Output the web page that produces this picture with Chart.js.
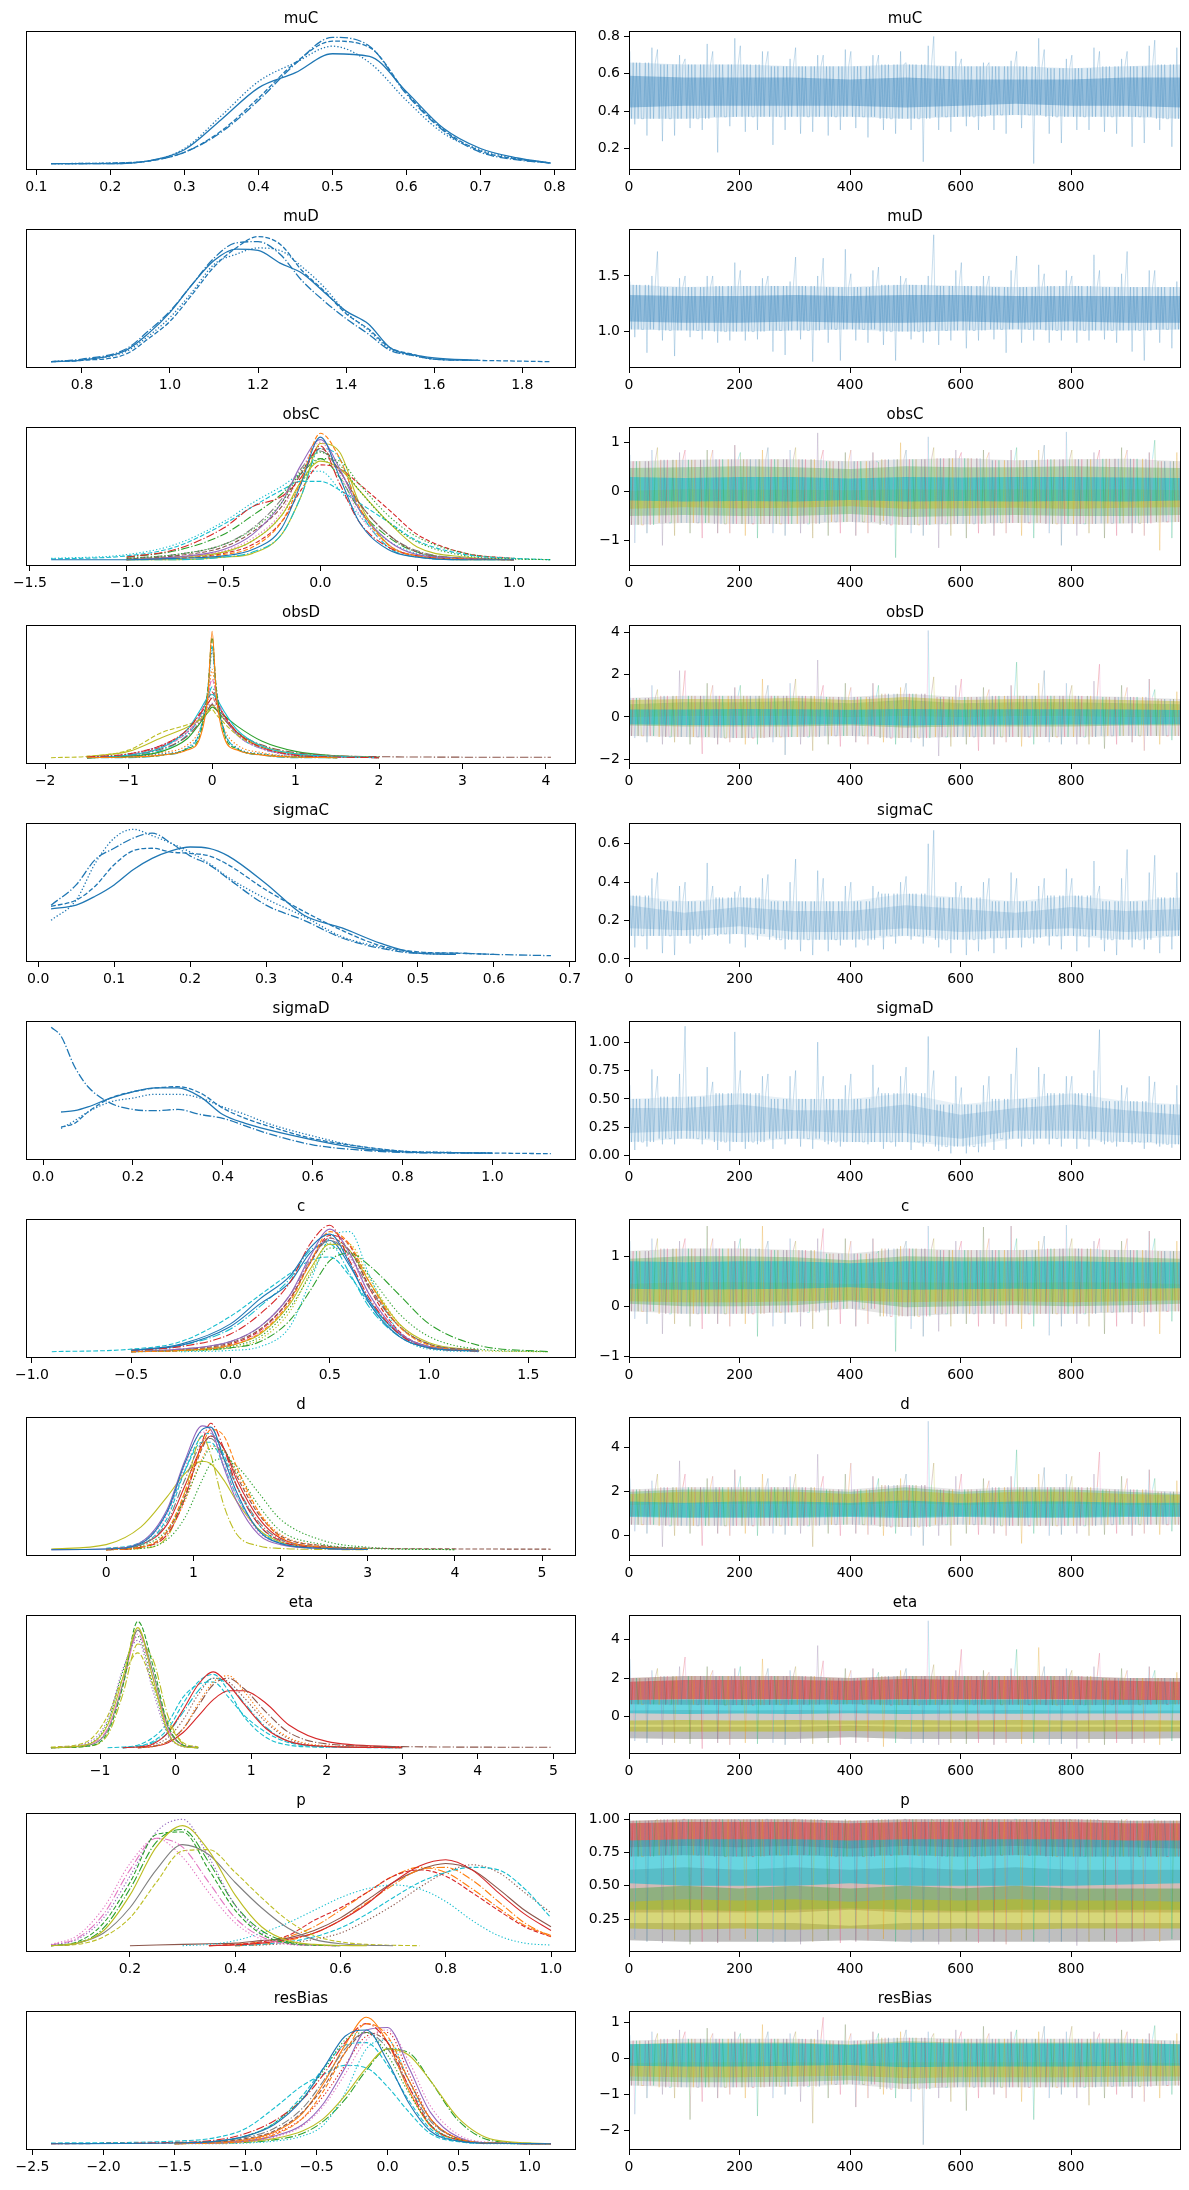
<!DOCTYPE html>
<html lang="en">
<head>
<meta charset="UTF-8">
<title>Trace plot</title>
<script src="https://cdn.jsdelivr.net/npm/chart.js"></script>
<style>
  body { margin: 0; background: #fff; }
  #fig { position: relative; width: 1189px; height: 2190px; }
  #fig canvas { position: absolute; }
</style>
</head>
<body>
<div id="fig"></div>
<script>
// ---------- data ----------
// KDE values are relative heights (tallest curve of a panel = 1)
// trace envelopes: extremes per 25-draw bin (zig) and dense bands at draws 0,100,...,999

const iterTicks = [0, 200, 400, 600, 800];
const iterTickLabels = ['0', '200', '400', '600', '800'];
const bandIters = [0, 100, 200, 300, 400, 500, 600, 700, 800, 900, 999];

// muC
const muCLim = [0.086, 0.829];
const muCKdeX = [0.12, 0.2, 0.25, 0.3, 0.35, 0.4, 0.45, 0.5, 0.55, 0.6, 0.65, 0.7, 0.75, 0.795];
const muCKde = [
  [0, 0, 0.02, 0.11, 0.35, 0.6, 0.72, 0.87, 0.85, 0.57, 0.28, 0.12, 0.045, 0.005],
  [0, 0.005, 0.02, 0.09, 0.26, 0.52, 0.8, 0.97, 0.92, 0.56, 0.27, 0.1, 0.035, 0.005],
  [0, 0.005, 0.02, 0.12, 0.38, 0.65, 0.8, 0.93, 0.8, 0.5, 0.24, 0.11, 0.04, 0.005],
  [0, 0, 0.02, 0.09, 0.25, 0.5, 0.79, 1.0, 0.93, 0.55, 0.26, 0.09, 0.03, 0.005]
];
const muCKdeTicks = [0.1, 0.2, 0.3, 0.4, 0.5, 0.6, 0.7, 0.8];
const muCKdeLabels = ['0.1', '0.2', '0.3', '0.4', '0.5', '0.6', '0.7', '0.8'];
const muCZigHi = [0.72, 0.74, 0.73, 0.70, 0.68, 0.76, 0.72, 0.79, 0.75, 0.72, 0.72, 0.68, 0.74, 0.70, 0.70, 0.73, 0.72, 0.70, 0.70, 0.72,
  0.66, 0.75, 0.80, 0.72, 0.68, 0.66, 0.66, 0.67, 0.72, 0.79, 0.73, 0.68, 0.70, 0.74, 0.72, 0.68, 0.72, 0.75, 0.78, 0.74];
const muCZigLo = [0.33, 0.27, 0.24, 0.27, 0.31, 0.30, 0.18, 0.32, 0.29, 0.30, 0.22, 0.30, 0.28, 0.29, 0.27, 0.30, 0.31, 0.26, 0.30, 0.28,
  0.30, 0.13, 0.30, 0.29, 0.32, 0.30, 0.30, 0.28, 0.31, 0.12, 0.28, 0.23, 0.30, 0.30, 0.29, 0.28, 0.21, 0.23, 0.30, 0.21];
const muCBands = [
  [[0.66, 0.65, 0.65, 0.64, 0.64, 0.65, 0.64, 0.64, 0.63, 0.64, 0.65], [0.36, 0.36, 0.37, 0.37, 0.37, 0.36, 0.37, 0.38, 0.37, 0.37, 0.36]],
  [[0.59, 0.58, 0.58, 0.58, 0.57, 0.58, 0.57, 0.57, 0.57, 0.58, 0.58], [0.42, 0.43, 0.43, 0.43, 0.43, 0.42, 0.43, 0.44, 0.43, 0.43, 0.42]]
];
const muCTraceTicks = [0.2, 0.4, 0.6, 0.8];
const muCTraceLabels = ['0.2', '0.4', '0.6', '0.8'];

// muD
const muDLim = [0.673, 1.922];
const muDKdeX = [0.73, 0.8, 0.9, 0.95, 1.0, 1.05, 1.1, 1.15, 1.2, 1.25, 1.3, 1.35, 1.4, 1.45, 1.5, 1.55, 1.6, 1.7, 1.865];
const muDKde = [
  [0, 0.013, 0.09, 0.22, 0.39, 0.61, 0.8, 0.89, 0.88, 0.78, 0.7, 0.55, 0.4, 0.3, 0.11, 0.055, 0.03, 0.01, null],
  [0, 0.01, 0.06, 0.18, 0.32, 0.53, 0.75, 0.9, 0.99, 0.93, 0.72, 0.56, 0.38, 0.26, 0.11, 0.06, 0.02, 0.01, 0],
  [0, 0.015, 0.08, 0.2, 0.35, 0.55, 0.77, 0.85, 0.9, 0.88, 0.75, 0.59, 0.39, 0.25, 0.1, 0.05, 0.02, 0.01, null],
  [0, 0.02, 0.1, 0.24, 0.4, 0.61, 0.82, 0.94, 0.95, 0.85, 0.64, 0.48, 0.34, 0.22, 0.09, 0.05, 0.02, 0.01, null]
];
const muDKdeTicks = [0.8, 1.0, 1.2, 1.4, 1.6, 1.8];
const muDKdeLabels = ['0.8', '1.0', '1.2', '1.4', '1.6', '1.8'];
const muDZigHi = [1.45, 1.5, 1.72, 1.48, 1.5, 1.5, 1.5, 1.62, 1.55, 1.48, 1.5, 1.45, 1.67, 1.5, 1.66, 1.74, 1.52, 1.55, 1.58, 1.5,
  1.48, 1.5, 1.87, 1.55, 1.62, 1.5, 1.5, 1.55, 1.68, 1.6, 1.52, 1.55, 1.5, 1.69, 1.55, 1.52, 1.72, 1.55, 1.55, 1.45];
const muDZigLo = [0.95, 0.81, 0.92, 0.78, 0.95, 0.93, 0.9, 0.92, 0.92, 0.93, 0.82, 0.79, 0.93, 0.73, 0.9, 0.74, 0.92, 0.9, 0.88, 0.74,
  0.93, 0.9, 0.88, 0.92, 0.85, 0.92, 0.93, 0.81, 0.9, 0.92, 0.9, 0.92, 0.9, 0.92, 0.93, 0.9, 0.82, 0.74, 0.9, 0.85];
const muDBands = [
  [[1.42, 1.40, 1.41, 1.41, 1.40, 1.42, 1.41, 1.40, 1.41, 1.40, 1.40], [1.02, 1.01, 1.0, 1.01, 1.02, 1.0, 1.01, 1.02, 1.01, 1.01, 1.02]],
  [[1.33, 1.32, 1.32, 1.33, 1.32, 1.33, 1.33, 1.32, 1.32, 1.32, 1.32], [1.09, 1.08, 1.08, 1.09, 1.08, 1.08, 1.09, 1.08, 1.09, 1.08, 1.08]]
];
const muDTraceTicks = [1.0, 1.5];
const muDTraceLabels = ['1.0', '1.5'];

// obsC
const obsCLim = [-1.52, 1.32];
const obsCKdeX = [-1.39, -1.0, -0.75, -0.5, -0.35, -0.2, -0.1, 0.0, 0.1, 0.2, 0.35, 0.5, 0.75, 1.0, 1.19];
const obsCKde = [
  [0, 0, 0.01, 0.03, 0.08, 0.25, 0.6, 0.97, 0.65, 0.3, 0.08, 0.02, 0, 0, null],
  [null, 0, 0.01, 0.04, 0.1, 0.3, 0.62, 1.0, 0.8, 0.42, 0.12, 0.03, 0.005, 0, null],
  [null, 0.01, 0.04, 0.12, 0.24, 0.45, 0.7, 0.85, 0.75, 0.55, 0.3, 0.14, 0.03, 0.005, 0],
  [null, 0.02, 0.08, 0.25, 0.42, 0.5, 0.65, 0.9, 0.6, 0.3, 0.1, 0.03, 0.005, 0, null],
  [null, 0, 0.02, 0.08, 0.2, 0.45, 0.75, 0.95, 0.72, 0.4, 0.15, 0.04, 0.01, 0, null],
  [null, 0.005, 0.03, 0.1, 0.22, 0.42, 0.68, 0.88, 0.7, 0.45, 0.2, 0.06, 0.01, 0, null],
  [null, 0, 0.02, 0.07, 0.17, 0.38, 0.7, 0.93, 0.68, 0.36, 0.12, 0.03, 0.005, 0, null],
  [null, 0.01, 0.04, 0.12, 0.25, 0.48, 0.72, 0.86, 0.7, 0.45, 0.2, 0.07, 0.01, 0, null],
  [null, 0, 0.02, 0.06, 0.15, 0.35, 0.62, 0.78, 0.72, 0.55, 0.3, 0.1, 0.02, 0, null],
  [0.005, 0.03, 0.1, 0.28, 0.42, 0.55, 0.62, 0.62, 0.55, 0.45, 0.3, 0.15, 0.04, 0.01, 0],
  [null, 0, 0.02, 0.06, 0.15, 0.35, 0.6, 0.8, 0.78, 0.6, 0.35, 0.18, 0.05, 0.01, 0],
  [null, 0, 0, 0.02, 0.06, 0.2, 0.5, 0.88, 0.8, 0.4, 0.1, 0.02, 0, 0, null],
  [null, 0, 0, 0.02, 0.05, 0.2, 0.5, 0.92, 0.85, 0.45, 0.12, 0.03, 0, 0, null],
  [null, 0, 0.01, 0.05, 0.12, 0.3, 0.55, 0.75, 0.72, 0.6, 0.4, 0.2, 0.05, 0.01, null],
  [0.01, 0.04, 0.12, 0.3, 0.45, 0.58, 0.68, 0.7, 0.55, 0.35, 0.15, 0.05, 0.01, 0, null],
  [null, 0.02, 0.07, 0.2, 0.35, 0.52, 0.68, 0.8, 0.65, 0.4, 0.18, 0.06, 0.01, 0, null]
];
const obsCKdeTicks = [-1.5, -1.0, -0.5, 0.0, 0.5, 1.0];
const obsCKdeLabels = ['\u22121.5', '\u22121.0', '\u22120.5', '0.0', '0.5', '1.0'];
const obsCZigHi = [0.75, 0.85, 0.9, 0.8, 0.85, 0.85, 0.85, 0.95, 0.8, 0.85, 0.9, 0.85, 0.9, 1.2, 0.85, 0.8, 0.85, 0.8, 0.6, 1.0,
  0.85, 1.12, 0.9, 0.85, 0.8, 0.85, 0.8, 0.85, 0.9, 0.85, 0.95, 1.22, 0.85, 0.8, 0.85, 0.9, 0.85, 0.8, 1.05, 0.8];
const obsCZigLo = [-1.05, -0.85, -1.1, -0.9, -0.85, -0.95, -0.85, -0.85, -0.9, -0.95, -0.85, -0.9, -0.85, -0.95, -0.9, -0.85, -0.9, -0.85, -0.6, -1.35,
  -0.85, -0.9, -1.15, -0.9, -0.95, -0.85, -0.9, -0.85, -0.9, -0.95, -0.85, -1.1, -0.9, -0.85, -0.95, -0.9, -0.85, -0.9, -1.2, -0.95];
const obsCBands = [
  [[0.62, 0.65, 0.66, 0.66, 0.62, 0.66, 0.68, 0.64, 0.66, 0.67, 0.62], [-0.68, -0.64, -0.66, -0.66, -0.62, -0.68, -0.66, -0.64, -0.66, -0.65, -0.62]],
  [[0.48, 0.5, 0.52, 0.5, 0.46, 0.52, 0.5, 0.5, 0.52, 0.5, 0.48], [-0.5, -0.48, -0.5, -0.5, -0.46, -0.52, -0.5, -0.48, -0.5, -0.5, -0.48]],
  [[0.02, 0.05, 0.04, 0.04, 0.03, 0.05, 0.04, 0.05, 0.04, 0.05, 0.03], [-0.35, -0.32, -0.34, -0.33, -0.3, -0.35, -0.34, -0.33, -0.35, -0.33, -0.32]],
  [[0.3, 0.28, 0.3, 0.3, 0.27, 0.3, 0.29, 0.3, 0.3, 0.29, 0.28], [-0.18, -0.2, -0.19, -0.2, -0.17, -0.2, -0.19, -0.2, -0.19, -0.2, -0.18]]
];
const obsCTraceTicks = [-1, 0, 1];
const obsCTraceLabels = ['\u22121', '0', '1'];

// obsD
const obsDLim = [-2.23, 4.36];
const obsDKdeX = [-1.93, -1.5, -1.0, -0.6, -0.3, -0.15, -0.05, 0.0, 0.05, 0.15, 0.3, 0.6, 1.0, 1.5, 2.0, 3.0, 4.06];
const obsDKde = [
  [null, 0, 0.005, 0.02, 0.06, 0.15, 0.5, 1.0, 0.5, 0.15, 0.06, 0.02, 0.005, 0, null, null, null],
  [null, 0, 0.005, 0.02, 0.07, 0.17, 0.55, 0.95, 0.55, 0.18, 0.07, 0.025, 0.005, 0, null, null, null],
  [null, 0, 0.01, 0.03, 0.08, 0.2, 0.5, 0.85, 0.55, 0.2, 0.08, 0.03, 0.01, 0, null, null, null],
  [null, 0.005, 0.03, 0.1, 0.22, 0.34, 0.43, 0.47, 0.43, 0.33, 0.2, 0.08, 0.02, 0.005, 0, null, null],
  [null, 0, 0.02, 0.08, 0.22, 0.37, 0.48, 0.5, 0.47, 0.36, 0.22, 0.09, 0.03, 0.01, 0, null, null],
  [0, 0.01, 0.06, 0.2, 0.26, 0.3, 0.36, 0.38, 0.34, 0.27, 0.18, 0.08, 0.03, 0.01, 0, null, null],
  [null, 0.005, 0.03, 0.1, 0.2, 0.3, 0.4, 0.43, 0.4, 0.31, 0.19, 0.07, 0.02, 0.005, 0, null, null],
  [null, 0, 0.02, 0.07, 0.17, 0.28, 0.38, 0.42, 0.38, 0.3, 0.2, 0.1, 0.04, 0.015, 0.008, 0.004, 0.003],
  [null, 0, 0.01, 0.05, 0.15, 0.27, 0.36, 0.4, 0.38, 0.33, 0.25, 0.13, 0.05, 0.015, 0.005, null, null],
  [null, 0, 0.02, 0.08, 0.2, 0.33, 0.5, 0.62, 0.5, 0.32, 0.18, 0.07, 0.02, 0.005, 0, null, null],
  [null, 0.005, 0.03, 0.09, 0.2, 0.31, 0.42, 0.48, 0.42, 0.31, 0.19, 0.08, 0.025, 0.005, 0, null, null],
  [null, 0, 0, 0.02, 0.07, 0.2, 0.55, 0.88, 0.5, 0.2, 0.07, 0.02, 0, 0, null, null, null],
  [null, 0.01, 0.05, 0.16, 0.24, 0.3, 0.38, 0.42, 0.38, 0.3, 0.2, 0.09, 0.03, 0.01, 0, null, null],
  [null, 0, 0.02, 0.09, 0.22, 0.35, 0.46, 0.52, 0.45, 0.33, 0.2, 0.08, 0.02, 0.005, null, null, null],
  [null, 0, 0.01, 0.04, 0.1, 0.22, 0.45, 0.7, 0.45, 0.22, 0.1, 0.04, 0.01, 0, null, null, null],
  [null, 0, 0.015, 0.06, 0.18, 0.32, 0.48, 0.56, 0.46, 0.32, 0.18, 0.07, 0.02, 0, null, null, null]
];
const obsDKdeTicks = [-2, -1, 0, 1, 2, 3, 4];
const obsDKdeLabels = ['\u22122', '\u22121', '0', '1', '2', '3', '4'];
const obsDZigHi = [1.4, 1.5, 1.3, 2.2, 2.2, 1.6, 1.5, 1.4, 1.5, 1.8, 1.5, 1.6, 1.8, 2.7, 1.5, 1.6, 1.4, 1.6, 1.5, 1.4,
  1.6, 4.1, 1.9, 1.5, 1.8, 1.4, 1.3, 1.5, 2.6, 1.6, 2.2, 1.6, 1.5, 1.7, 2.5, 1.5, 1.4, 1.8, 1.3, 1.2];
const obsDZigLo = [-1.0, -1.2, -1.3, -1.2, -1.3, -1.75, -1.3, -1.2, -1.3, -1.3, -1.2, -1.8, -1.3, -1.6, -1.3, -1.4, -1.2, -1.3, -1.2, -1.3,
  -1.2, -1.4, -1.85, -1.4, -1.3, -1.6, -1.3, -1.2, -1.4, -1.3, -1.2, -1.3, -1.3, -1.3, -1.5, -1.3, -1.2, -1.6, -1.3, -1.1];
const obsDBands = [
  [[0.9, 1.0, 1.0, 1.0, 0.95, 1.1, 0.95, 1.0, 1.0, 0.95, 0.85], [-0.9, -0.95, -1.0, -0.95, -0.9, -1.0, -0.95, -0.95, -0.95, -0.9, -0.9]],
  [[0.6, 0.7, 0.7, 0.75, 0.65, 0.8, 0.65, 0.7, 0.7, 0.65, 0.6], [-0.4, -0.45, -0.45, -0.45, -0.4, -0.5, -0.45, -0.45, -0.45, -0.4, -0.4]],
  [[0.8, 0.85, 0.85, 0.9, 0.8, 0.95, 0.8, 0.85, 0.85, 0.8, 0.75], [0.0, 0.05, 0.05, 0.05, 0.0, 0.05, 0.0, 0.05, 0.05, 0.0, 0.0]],
  [[0.35, 0.35, 0.38, 0.36, 0.34, 0.38, 0.35, 0.36, 0.36, 0.35, 0.33], [-0.35, -0.38, -0.38, -0.37, -0.34, -0.4, -0.37, -0.37, -0.36, -0.36, -0.34]]
];
const obsDTraceTicks = [-2, 0, 2, 4];
const obsDTraceLabels = ['\u22122', '0', '2', '4'];

// sigmaC
const sigmaCLim = [-0.016, 0.708];
const sigmaCKdeX = [0.017, 0.05, 0.075, 0.1, 0.125, 0.15, 0.175, 0.2, 0.225, 0.25, 0.3, 0.35, 0.4, 0.45, 0.5, 0.55, 0.6, 0.675];
const sigmaCKde = [
  [0.37, 0.40, 0.47, 0.56, 0.68, 0.77, 0.83, 0.86, 0.85, 0.79, 0.57, 0.32, 0.22, 0.1, 0.02, 0.01, null, null],
  [0.39, 0.44, 0.55, 0.72, 0.83, 0.85, 0.82, 0.81, 0.79, 0.72, 0.52, 0.35, 0.2, 0.08, 0.03, 0.02, 0.01, null],
  [0.28, 0.44, 0.73, 0.93, 1.0, 0.95, 0.89, 0.82, 0.73, 0.62, 0.45, 0.31, 0.15, 0.07, 0.02, 0.01, null, null],
  [0.4, 0.56, 0.76, 0.85, 0.93, 0.97, 0.89, 0.79, 0.72, 0.61, 0.4, 0.28, 0.14, 0.06, 0.02, 0.02, 0.01, 0]
];
const sigmaCKdeTicks = [0.0, 0.1, 0.2, 0.3, 0.4, 0.5, 0.6, 0.7];
const sigmaCKdeLabels = ['0.0', '0.1', '0.2', '0.3', '0.4', '0.5', '0.6', '0.7'];
const sigmaCZigHi = [0.36, 0.42, 0.45, 0.38, 0.4, 0.5, 0.38, 0.35, 0.38, 0.42, 0.44, 0.4, 0.52, 0.46, 0.42, 0.38, 0.4, 0.38, 0.35, 0.4,
  0.43, 0.6, 0.67, 0.4, 0.38, 0.4, 0.42, 0.45, 0.42, 0.38, 0.42, 0.47, 0.42, 0.51, 0.38, 0.42, 0.57, 0.45, 0.54, 0.45];
const sigmaCZigLo = [0.06, 0.05, 0.03, 0.02, 0.08, 0.1, 0.12, 0.08, 0.06, 0.1, 0.12, 0.05, 0.04, 0.02, 0.04, 0.07, 0.06, 0.07, 0.05, 0.08,
  0.1, 0.08, 0.06, 0.03, 0.02, 0.04, 0.03, 0.05, 0.06, 0.08, 0.07, 0.05, 0.04, 0.06, 0.04, 0.02, 0.06, 0.05, 0.03, 0.05];
const sigmaCBands = [
  [[0.33, 0.3, 0.32, 0.3, 0.3, 0.34, 0.32, 0.3, 0.33, 0.3, 0.32], [0.12, 0.12, 0.13, 0.1, 0.1, 0.12, 0.1, 0.11, 0.12, 0.1, 0.12]],
  [[0.28, 0.24, 0.27, 0.25, 0.25, 0.28, 0.26, 0.24, 0.27, 0.25, 0.26], [0.16, 0.15, 0.17, 0.14, 0.14, 0.16, 0.14, 0.15, 0.16, 0.14, 0.15]]
];
const sigmaCTraceTicks = [0.0, 0.2, 0.4, 0.6];
const sigmaCTraceLabels = ['0.0', '0.2', '0.4', '0.6'];

// sigmaD
const sigmaDLim = [-0.038, 1.186];
const sigmaDKdeX = [0.018, 0.04, 0.07, 0.1, 0.15, 0.2, 0.25, 0.3, 0.35, 0.4, 0.45, 0.5, 0.6, 0.7, 0.8, 0.9, 1.0, 1.13];
const sigmaDKde = [
  [null, 0.33, 0.34, 0.37, 0.44, 0.49, 0.52, 0.52, 0.45, 0.31, 0.24, 0.19, 0.11, 0.045, 0.015, 0.008, 0.004, null],
  [null, 0.21, 0.24, 0.33, 0.44, 0.49, 0.52, 0.53, 0.48, 0.36, 0.28, 0.22, 0.12, 0.06, 0.02, 0.01, 0.005, 0],
  [null, 0.2, 0.26, 0.33, 0.41, 0.44, 0.47, 0.47, 0.44, 0.37, 0.31, 0.24, 0.14, 0.06, 0.02, 0.01, 0.005, null],
  [1.0, 0.93, 0.69, 0.53, 0.40, 0.35, 0.34, 0.35, 0.31, 0.28, 0.22, 0.16, 0.07, 0.03, 0.01, 0.005, 0.003, null]
];
const sigmaDKdeTicks = [0.0, 0.2, 0.4, 0.6, 0.8, 1.0];
const sigmaDKdeLabels = ['0.0', '0.2', '0.4', '0.6', '0.8', '1.0'];
const sigmaDZigHi = [0.62, 0.76, 0.7, 0.72, 1.14, 0.78, 0.65, 1.09, 0.75, 0.7, 0.72, 0.7, 0.75, 1.0, 0.7, 0.62, 0.72, 0.8, 0.6, 0.7,
  0.78, 1.05, 0.75, 0.7, 0.6, 0.62, 0.7, 0.72, 0.95, 0.78, 0.72, 0.7, 0.7, 0.75, 1.11, 0.62, 0.6, 0.7, 0.65, 0.62];
const sigmaDZigLo = [0.05, 0.08, 0.1, 0.1, 0.15, 0.1, 0.05, 0.04, 0.06, 0.1, 0.06, 0.1, 0.08, 0.06, 0.1, 0.08, 0.12, 0.1, 0.06, 0.08,
  0.05, 0.08, 0.04, 0.02, 0.02, 0.03, 0.05, 0.06, 0.08, 0.1, 0.1, 0.08, 0.06, 0.08, 0.1, 0.08, 0.1, 0.06, 0.08, 0.07];
const sigmaDBands = [
  [[0.5, 0.52, 0.55, 0.5, 0.5, 0.55, 0.45, 0.5, 0.55, 0.48, 0.45], [0.12, 0.15, 0.12, 0.15, 0.12, 0.12, 0.08, 0.15, 0.15, 0.12, 0.1]],
  [[0.42, 0.42, 0.45, 0.4, 0.4, 0.45, 0.36, 0.42, 0.45, 0.4, 0.36], [0.2, 0.22, 0.2, 0.22, 0.2, 0.2, 0.15, 0.22, 0.22, 0.2, 0.18]]
];
const sigmaDTraceTicks = [0.0, 0.25, 0.5, 0.75, 1.0];
const sigmaDTraceLabels = ['0.00', '0.25', '0.50', '0.75', '1.00'];

// c
const cLim = [-1.03, 1.74];
const cKdeX = [-0.9, -0.5, -0.25, 0.0, 0.15, 0.3, 0.4, 0.5, 0.6, 0.7, 0.85, 1.0, 1.25, 1.6];
const cKde = [
  [null, 0.01, 0.06, 0.22, 0.42, 0.6, 0.82, 0.93, 0.7, 0.38, 0.12, 0.03, 0.005, null],
  [null, 0, 0.01, 0.05, 0.15, 0.4, 0.7, 0.95, 0.85, 0.55, 0.2, 0.05, 0.005, null],
  [null, 0, 0.01, 0.04, 0.12, 0.35, 0.6, 0.82, 0.78, 0.6, 0.3, 0.12, 0.02, 0],
  [null, 0.01, 0.04, 0.14, 0.3, 0.55, 0.85, 1.0, 0.72, 0.42, 0.14, 0.03, 0.005, null],
  [null, 0, 0.02, 0.08, 0.2, 0.45, 0.75, 0.97, 0.78, 0.45, 0.15, 0.04, 0.005, null],
  [null, 0, 0.015, 0.07, 0.18, 0.42, 0.7, 0.9, 0.8, 0.52, 0.2, 0.06, 0.01, null],
  [null, 0, 0.01, 0.05, 0.16, 0.42, 0.72, 0.9, 0.75, 0.45, 0.15, 0.04, 0.005, null],
  [null, 0.005, 0.02, 0.08, 0.2, 0.45, 0.72, 0.88, 0.76, 0.5, 0.2, 0.06, 0.01, null],
  [null, 0, 0.01, 0.05, 0.14, 0.38, 0.65, 0.85, 0.8, 0.55, 0.22, 0.07, 0.01, null],
  [0, 0.02, 0.08, 0.28, 0.45, 0.62, 0.72, 0.75, 0.6, 0.38, 0.14, 0.04, 0.005, null],
  [null, null, 0, 0.01, 0.04, 0.2, 0.55, 0.9, 0.95, 0.6, 0.15, 0.02, 0, null],
  [null, 0, 0.01, 0.03, 0.08, 0.25, 0.48, 0.72, 0.78, 0.68, 0.45, 0.22, 0.05, 0],
  [null, 0.01, 0.05, 0.2, 0.38, 0.55, 0.78, 0.88, 0.68, 0.4, 0.14, 0.04, 0.005, null],
  [null, 0, 0.01, 0.06, 0.17, 0.42, 0.7, 0.92, 0.84, 0.5, 0.16, 0.04, 0.005, null],
  [null, 0, 0.005, 0.03, 0.1, 0.32, 0.62, 0.86, 0.85, 0.58, 0.22, 0.06, 0.008, 0],
  [null, 0.01, 0.05, 0.18, 0.36, 0.58, 0.8, 0.85, 0.62, 0.35, 0.12, 0.03, 0.005, null]
];
const cKdeTicks = [-1.0, -0.5, 0.0, 0.5, 1.0, 1.5];
const cKdeLabels = ['\u22121.0', '\u22120.5', '0.0', '0.5', '1.0', '1.5'];
const cZigHi = [1.3, 1.35, 1.35, 1.3, 1.35, 1.6, 1.35, 1.3, 1.35, 1.6, 1.3, 1.35, 1.3, 1.35, 1.55, 1.35, 1.3, 1.35, 1.1, 1.2,
  1.3, 1.6, 1.35, 1.3, 1.3, 1.58, 1.35, 1.6, 1.35, 1.3, 1.4, 1.62, 1.35, 1.3, 1.35, 1.3, 1.35, 1.5, 1.35, 1.3];
const cZigLo = [-0.25, -0.35, -0.55, -0.35, -0.4, -0.45, -0.35, -0.4, -0.35, -0.6, -0.4, -0.35, -0.4, -0.45, -0.4, -0.35, -0.4, -0.35, -0.2, -0.9,
  -0.45, -0.6, -0.5, -0.4, -0.35, -0.4, -0.35, -0.4, -0.45, -0.4, -0.58, -0.4, -0.35, -0.4, -0.55, -0.4, -0.35, -0.4, -0.55, -0.3];
const cBands = [
  [[1.1, 1.15, 1.15, 1.12, 1.05, 1.15, 1.12, 1.12, 1.15, 1.12, 1.1], [-0.1, -0.15, -0.15, -0.12, -0.05, -0.2, -0.15, -0.15, -0.15, -0.12, -0.1]],
  [[0.95, 1.0, 1.0, 0.98, 0.92, 1.0, 0.98, 0.98, 1.0, 0.98, 0.95], [0.05, 0.0, 0.0, 0.02, 0.1, -0.02, 0.0, 0.02, 0.0, 0.02, 0.05]],
  [[0.45, 0.48, 0.48, 0.47, 0.45, 0.48, 0.47, 0.47, 0.48, 0.47, 0.45], [0.1, 0.08, 0.08, 0.1, 0.12, 0.08, 0.1, 0.1, 0.08, 0.1, 0.12]],
  [[0.9, 0.88, 0.9, 0.9, 0.86, 0.9, 0.9, 0.9, 0.9, 0.88, 0.88], [0.35, 0.33, 0.34, 0.35, 0.38, 0.33, 0.34, 0.35, 0.34, 0.35, 0.36]]
];
const cTraceTicks = [-1, 0, 1];
const cTraceLabels = ['\u22121', '0', '1'];

// d
const dLim = [-0.92, 5.39];
const dKdeX = [-0.63, 0.0, 0.4, 0.7, 0.9, 1.1, 1.2, 1.35, 1.5, 1.75, 2.0, 2.5, 3.0, 4.0, 5.1];
const dKde = [
  [0, 0.005, 0.05, 0.3, 0.68, 0.95, 0.97, 0.72, 0.45, 0.15, 0.05, 0.01, 0.002, null, null],
  [null, 0, 0.02, 0.15, 0.45, 0.82, 0.95, 0.9, 0.65, 0.3, 0.1, 0.02, 0.005, null, null],
  [null, 0, 0.03, 0.16, 0.4, 0.7, 0.8, 0.78, 0.62, 0.35, 0.15, 0.04, 0.01, 0, null],
  [null, 0, 0.02, 0.12, 0.4, 0.85, 1.0, 0.8, 0.5, 0.2, 0.07, 0.015, 0.003, null, null],
  [0, 0.005, 0.06, 0.32, 0.7, 0.98, 0.95, 0.65, 0.38, 0.12, 0.04, 0.01, 0.002, null, null],
  [null, 0, 0.02, 0.14, 0.42, 0.8, 0.9, 0.8, 0.58, 0.28, 0.11, 0.03, 0.012, 0.006, 0.004],
  [null, 0.005, 0.05, 0.28, 0.65, 0.93, 0.92, 0.68, 0.42, 0.14, 0.05, 0.01, 0.002, null, null],
  [null, 0.005, 0.04, 0.22, 0.55, 0.85, 0.88, 0.72, 0.5, 0.22, 0.08, 0.02, 0.005, null, null],
  [0.005, 0.04, 0.18, 0.42, 0.6, 0.7, 0.68, 0.55, 0.38, 0.16, 0.06, 0.015, 0.003, null, null],
  [null, 0.005, 0.04, 0.25, 0.62, 0.9, 0.92, 0.75, 0.5, 0.2, 0.06, 0.01, 0.002, null, null],
  [null, 0, 0.01, 0.08, 0.25, 0.55, 0.68, 0.72, 0.66, 0.45, 0.24, 0.07, 0.02, 0, null],
  [null, 0, 0.01, 0.1, 0.45, 0.9, 0.75, 0.35, 0.12, 0.03, 0.01, 0.002, 0, null, null],
  [null, 0.005, 0.04, 0.2, 0.5, 0.82, 0.9, 0.8, 0.55, 0.25, 0.09, 0.02, 0.004, null, null],
  [null, 0.01, 0.06, 0.3, 0.62, 0.85, 0.85, 0.66, 0.42, 0.16, 0.05, 0.01, 0.002, null, null],
  [null, 0, 0.02, 0.12, 0.38, 0.72, 0.82, 0.78, 0.6, 0.3, 0.12, 0.03, 0.006, null, null]
];
const dKdeTicks = [0, 1, 2, 3, 4, 5];
const dKdeLabels = ['0', '1', '2', '3', '4', '5'];
const dZigHi = [2.6, 2.5, 2.8, 3.4, 2.8, 2.6, 2.7, 3.0, 2.7, 2.8, 2.6, 2.7, 2.8, 3.7, 2.7, 2.8, 3.3, 2.7, 2.6, 2.6,
  2.8, 5.2, 3.3, 2.7, 2.8, 2.6, 2.5, 2.7, 3.9, 2.8, 3.1, 2.8, 2.7, 2.8, 3.8, 2.7, 2.6, 3.0, 2.6, 2.5];
const dZigLo = [0.2, 0.1, -0.5, 0.0, 0.1, -0.45, 0.1, 0.0, 0.1, 0.0, 0.1, 0.05, 0.1, -0.5, 0.1, 0.0, 0.1, 0.05, 0.0, 0.1,
  0.0, -0.45, 0.0, -0.45, 0.1, 0.05, 0.1, 0.0, -0.35, 0.1, 0.0, 0.05, 0.1, 0.0, 0.05, 0.1, 0.0, 0.1, 0.05, 0.2];
const dBands = [
  [[2.1, 2.2, 2.2, 2.2, 2.1, 2.3, 2.1, 2.2, 2.2, 2.1, 2.0], [0.5, 0.45, 0.45, 0.45, 0.5, 0.4, 0.5, 0.45, 0.45, 0.5, 0.5]],
  [[2.0, 2.1, 2.1, 2.1, 2.0, 2.2, 2.0, 2.1, 2.1, 2.0, 1.9], [0.9, 0.85, 0.85, 0.85, 0.9, 0.85, 0.9, 0.85, 0.85, 0.9, 0.9]],
  [[1.9, 2.0, 2.0, 2.0, 1.9, 2.05, 1.9, 2.0, 2.0, 1.9, 1.85], [1.4, 1.45, 1.45, 1.45, 1.4, 1.5, 1.4, 1.45, 1.45, 1.4, 1.4]],
  [[1.55, 1.5, 1.55, 1.55, 1.5, 1.6, 1.5, 1.55, 1.55, 1.5, 1.5], [0.85, 0.82, 0.82, 0.82, 0.85, 0.8, 0.85, 0.82, 0.82, 0.85, 0.85]]
];
const dTraceTicks = [0, 2, 4];
const dTraceLabels = ['0', '2', '4'];

// eta
const etaLim = [-1.98, 5.3];
const etaKdeX = [-1.65, -1.2, -0.9, -0.7, -0.5, -0.3, -0.1, 0.1, 0.3, 0.5, 0.7, 0.9, 1.2, 1.5, 2.0, 3.0, 4.97];
const etaKde = [
  [0, 0.02, 0.18, 0.55, 0.95, 0.55, 0.12, 0.01, 0, null, null, null, null, null, null, null, null],
  [0, 0.01, 0.12, 0.48, 1.0, 0.65, 0.18, 0.02, 0, null, null, null, null, null, null, null, null],
  [0, 0.03, 0.22, 0.62, 0.85, 0.45, 0.1, 0.01, 0, null, null, null, null, null, null, null, null],
  [0, 0.02, 0.15, 0.5, 0.9, 0.55, 0.15, 0.02, 0, null, null, null, null, null, null, null, null],
  [0, 0.015, 0.14, 0.5, 0.93, 0.6, 0.16, 0.02, 0, null, null, null, null, null, null, null, null],
  [0.005, 0.04, 0.25, 0.55, 0.75, 0.5, 0.2, 0.04, 0.005, null, null, null, null, null, null, null, null],
  [0, 0.02, 0.2, 0.6, 0.88, 0.5, 0.12, 0.01, 0, null, null, null, null, null, null, null, null],
  [0, 0.01, 0.1, 0.42, 0.82, 0.7, 0.25, 0.03, 0, null, null, null, null, null, null, null, null],
  [null, null, null, 0, 0.005, 0.03, 0.12, 0.3, 0.5, 0.6, 0.5, 0.35, 0.15, 0.05, 0.01, 0, null],
  [null, null, null, 0, 0.01, 0.05, 0.15, 0.35, 0.52, 0.58, 0.45, 0.25, 0.08, 0.02, 0.002, null, null],
  [null, null, null, null, 0, 0.01, 0.05, 0.15, 0.35, 0.52, 0.57, 0.45, 0.22, 0.08, 0.015, 0, null],
  [null, null, null, null, 0, 0.01, 0.05, 0.15, 0.33, 0.5, 0.55, 0.47, 0.28, 0.12, 0.03, 0.008, 0.003],
  [null, null, null, null, 0, 0.01, 0.04, 0.12, 0.25, 0.38, 0.45, 0.45, 0.35, 0.18, 0.05, 0.005, null],
  [null, null, 0, 0.005, 0.02, 0.08, 0.2, 0.4, 0.5, 0.52, 0.4, 0.26, 0.12, 0.04, 0.005, 0, null],
  [null, null, null, 0, 0.005, 0.02, 0.08, 0.22, 0.42, 0.55, 0.52, 0.4, 0.2, 0.07, 0.01, 0, null],
  [null, null, null, 0, 0.01, 0.04, 0.12, 0.28, 0.45, 0.55, 0.5, 0.36, 0.16, 0.05, 0.008, 0, null]
];
const etaKdeTicks = [-1, 0, 1, 2, 3, 4, 5];
const etaKdeLabels = ['\u22121', '0', '1', '2', '3', '4', '5'];
const etaZigHi = [3.0, 2.4, 2.5, 2.6, 3.1, 2.6, 2.4, 2.5, 2.6, 3.0, 2.5, 2.4, 2.6, 3.7, 2.9, 2.5, 2.4, 2.5, 2.3, 2.4,
  2.5, 5.0, 2.7, 2.4, 3.5, 2.4, 2.3, 2.5, 3.5, 3.6, 2.6, 2.5, 2.4, 2.6, 3.3, 2.5, 2.4, 2.6, 2.4, 2.3];
const etaZigLo = [-1.3, -1.4, -1.5, -1.4, -1.45, -1.7, -1.4, -1.5, -1.4, -1.45, -1.4, -1.5, -1.4, -1.45, -1.4, -1.5, -1.4, -1.35, -1.6, -1.4,
  -1.45, -1.4, -1.5, -1.4, -1.45, -1.4, -1.5, -1.4, -1.45, -1.4, -1.5, -1.45, -1.7, -1.4, -1.5, -1.4, -1.45, -1.4, -1.5, -1.3];
const etaBands = [
  [[2.0, 2.1, 2.1, 2.1, 2.0, 2.1, 2.1, 2.1, 2.1, 2.0, 2.0], [0.62, 0.6, 0.58, 0.6, 0.62, 0.58, 0.6, 0.6, 0.58, 0.6, 0.62]],
  [[1.8, 1.9, 1.9, 1.9, 1.85, 1.95, 1.9, 1.9, 1.9, 1.85, 1.8], [0.85, 0.9, 0.9, 0.9, 0.85, 0.9, 0.9, 0.9, 0.9, 0.85, 0.85]],
  [[-0.55, -0.55, -0.55, -0.55, -0.5, -0.55, -0.55, -0.55, -0.55, -0.55, -0.55], [-1.15, -1.2, -1.2, -1.2, -1.1, -1.2, -1.2, -1.2, -1.2, -1.2, -1.15]],
  [[0.3, 0.32, 0.3, 0.32, 0.3, 0.32, 0.3, 0.32, 0.3, 0.3, 0.3], [-0.45, -0.45, -0.45, -0.45, -0.42, -0.45, -0.45, -0.45, -0.45, -0.45, -0.45]],
  [[-0.22, -0.2, -0.22, -0.2, -0.22, -0.2, -0.22, -0.2, -0.22, -0.2, -0.22], [-0.8, -0.82, -0.8, -0.82, -0.78, -0.82, -0.8, -0.82, -0.8, -0.8, -0.8]],
  [[0.85, 0.88, 0.86, 0.88, 0.85, 0.88, 0.86, 0.87, 0.86, 0.86, 0.85], [0.15, 0.12, 0.14, 0.12, 0.15, 0.12, 0.14, 0.13, 0.14, 0.14, 0.15]]
];
const etaTraceTicks = [0, 2, 4];
const etaTraceLabels = ['0', '2', '4'];

// p
const pLim = [0.0025, 1.0475];
const pKdeX = [0.05, 0.1, 0.15, 0.2, 0.25, 0.3, 0.35, 0.4, 0.45, 0.5, 0.55, 0.6, 0.65, 0.7, 0.75, 0.8, 0.85, 0.9, 0.95, 1.0];
const pKde = [
  [0, 0.02, 0.12, 0.4, 0.78, 0.95, 0.75, 0.4, 0.15, 0.04, 0.01, 0.002, 0, null, null, null, null, null, null, null],
  [0, 0.03, 0.18, 0.5, 0.88, 0.9, 0.6, 0.28, 0.09, 0.02, 0.004, 0, null, null, null, null, null, null, null, null],
  [0.005, 0.05, 0.22, 0.55, 0.9, 1.0, 0.7, 0.32, 0.1, 0.02, 0.004, 0, null, null, null, null, null, null, null, null],
  [0.005, 0.06, 0.25, 0.6, 0.85, 0.78, 0.5, 0.22, 0.07, 0.015, 0.003, 0, null, null, null, null, null, null, null, null],
  [0, 0.02, 0.1, 0.3, 0.6, 0.8, 0.72, 0.5, 0.3, 0.14, 0.05, 0.015, 0.004, 0, null, null, null, null, null, null],
  [0, 0.01, 0.07, 0.22, 0.5, 0.75, 0.76, 0.58, 0.38, 0.2, 0.08, 0.03, 0.01, 0.003, 0, null, null, null, null, null],
  [0.01, 0.08, 0.3, 0.65, 0.85, 0.7, 0.42, 0.18, 0.05, 0.01, 0.002, 0, null, null, null, null, null, null, null, null],
  [0, 0.02, 0.14, 0.45, 0.82, 0.92, 0.66, 0.32, 0.12, 0.03, 0.006, 0, null, null, null, null, null, null, null, null],
  [null, null, null, null, null, null, 0, 0.005, 0.02, 0.05, 0.1, 0.2, 0.33, 0.5, 0.63, 0.68, 0.6, 0.42, 0.25, 0.12],
  [null, null, null, null, null, null, null, 0, 0.01, 0.03, 0.07, 0.14, 0.25, 0.38, 0.5, 0.58, 0.62, 0.6, 0.45, 0.22],
  [null, null, null, null, null, 0, 0.01, 0.04, 0.1, 0.18, 0.28, 0.38, 0.45, 0.48, 0.45, 0.35, 0.2, 0.08, 0.02, 0.005],
  [null, null, null, null, null, null, null, 0, 0.01, 0.04, 0.1, 0.2, 0.34, 0.48, 0.6, 0.62, 0.52, 0.35, 0.18, 0.07],
  [null, null, null, 0, 0.005, 0.01, 0.015, 0.02, 0.04, 0.06, 0.12, 0.22, 0.36, 0.5, 0.6, 0.65, 0.6, 0.45, 0.28, 0.15],
  [null, null, null, null, null, null, 0, 0.01, 0.03, 0.08, 0.2, 0.3, 0.42, 0.55, 0.6, 0.55, 0.42, 0.28, 0.15, 0.07],
  [null, null, null, null, null, null, null, 0, 0.005, 0.02, 0.05, 0.1, 0.2, 0.32, 0.46, 0.58, 0.64, 0.58, 0.42, 0.26],
  [null, null, null, null, null, null, 0, 0.01, 0.03, 0.07, 0.15, 0.28, 0.42, 0.55, 0.62, 0.58, 0.45, 0.3, 0.16, 0.08]
];
const pKdeTicks = [0.2, 0.4, 0.6, 0.8, 1.0];
const pKdeLabels = ['0.2', '0.4', '0.6', '0.8', '1.0'];
const pZigHi = [1.0, 0.99, 1.0, 0.99, 1.0, 1.0, 0.99, 1.0, 0.99, 1.0, 1.0, 0.99, 1.0, 1.0, 0.99, 1.0, 0.99, 1.0, 1.0, 0.99,
  1.0, 1.0, 0.99, 1.0, 0.99, 1.0, 1.0, 0.99, 1.0, 0.99, 1.0, 1.0, 0.99, 1.0, 0.99, 1.0, 1.0, 0.99, 1.0, 0.99];
const pZigLo = [0.1, 0.08, 0.07, 0.09, 0.06, 0.08, 0.07, 0.09, 0.1, 0.08, 0.07, 0.08, 0.06, 0.08, 0.09, 0.07, 0.08, 0.09, 0.1, 0.08,
  0.07, 0.09, 0.06, 0.08, 0.09, 0.07, 0.08, 0.06, 0.09, 0.08, 0.07, 0.08, 0.05, 0.08, 0.09, 0.07, 0.08, 0.09, 0.08, 0.1];
const pBands = [
  [[0.99, 1.0, 1.0, 1.0, 0.99, 1.0, 1.0, 1.0, 1.0, 0.99, 0.99], [0.72, 0.73, 0.72, 0.73, 0.72, 0.73, 0.72, 0.73, 0.72, 0.72, 0.72]],
  [[0.97, 0.98, 0.98, 0.98, 0.97, 0.98, 0.98, 0.98, 0.98, 0.97, 0.97], [0.79, 0.8, 0.79, 0.8, 0.78, 0.8, 0.79, 0.8, 0.79, 0.79, 0.78]],
  [[0.22, 0.22, 0.22, 0.22, 0.2, 0.22, 0.22, 0.22, 0.22, 0.22, 0.22], [0.09, 0.08, 0.08, 0.08, 0.09, 0.08, 0.08, 0.08, 0.08, 0.08, 0.09]],
  [[0.62, 0.64, 0.62, 0.64, 0.62, 0.64, 0.62, 0.64, 0.62, 0.62, 0.62], [0.3, 0.3, 0.3, 0.3, 0.32, 0.3, 0.3, 0.3, 0.3, 0.3, 0.3]],
  [[0.48, 0.5, 0.48, 0.5, 0.48, 0.5, 0.48, 0.5, 0.48, 0.48, 0.48], [0.32, 0.32, 0.31, 0.32, 0.33, 0.32, 0.31, 0.32, 0.32, 0.32, 0.32]],
  [[0.38, 0.4, 0.39, 0.4, 0.38, 0.4, 0.39, 0.4, 0.39, 0.39, 0.38], [0.18, 0.17, 0.18, 0.17, 0.18, 0.17, 0.18, 0.17, 0.18, 0.18, 0.18]],
  [[0.84, 0.85, 0.85, 0.85, 0.84, 0.85, 0.85, 0.85, 0.85, 0.84, 0.84], [0.52, 0.5, 0.5, 0.5, 0.52, 0.5, 0.5, 0.5, 0.5, 0.51, 0.52]]
];
const pTraceTicks = [0.25, 0.5, 0.75, 1.0];
const pTraceLabels = ['0.25', '0.50', '0.75', '1.00'];

// resBias
const resBiasLim = [-2.546, 1.326];
const resBiasKdeX = [-2.37, -1.5, -1.2, -1.0, -0.8, -0.6, -0.45, -0.3, -0.15, 0.0, 0.15, 0.3, 0.5, 0.75, 1.15];
const resBiasKde = [
  [0, 0.005, 0.02, 0.06, 0.15, 0.35, 0.6, 0.85, 0.9, 0.65, 0.32, 0.1, 0.02, 0.003, 0],
  [null, 0, 0.005, 0.02, 0.07, 0.2, 0.42, 0.72, 0.95, 0.85, 0.5, 0.2, 0.04, 0.005, 0],
  [null, 0.005, 0.02, 0.06, 0.16, 0.36, 0.58, 0.82, 0.88, 0.7, 0.4, 0.15, 0.03, 0.005, 0],
  [0, 0.01, 0.03, 0.08, 0.18, 0.35, 0.55, 0.8, 0.95, 0.8, 0.45, 0.15, 0.03, 0.003, 0],
  [null, 0, 0.005, 0.02, 0.06, 0.15, 0.32, 0.6, 0.9, 0.92, 0.6, 0.25, 0.05, 0.005, 0],
  [0, 0.005, 0.015, 0.04, 0.1, 0.25, 0.45, 0.72, 0.88, 0.8, 0.5, 0.2, 0.04, 0.005, 0],
  [null, 0, 0.005, 0.015, 0.05, 0.14, 0.3, 0.55, 0.82, 0.9, 0.65, 0.3, 0.07, 0.01, 0],
  [null, 0.005, 0.02, 0.05, 0.12, 0.28, 0.5, 0.75, 0.88, 0.75, 0.45, 0.18, 0.04, 0.005, 0],
  [null, 0, 0.005, 0.015, 0.04, 0.1, 0.2, 0.38, 0.6, 0.75, 0.7, 0.5, 0.2, 0.03, 0],
  [0.005, 0.02, 0.05, 0.12, 0.28, 0.46, 0.55, 0.62, 0.6, 0.45, 0.25, 0.08, 0.015, 0.002, 0],
  [null, 0, 0, 0.005, 0.02, 0.06, 0.15, 0.4, 0.75, 0.82, 0.5, 0.15, 0.02, 0, 0],
  [null, 0, 0.005, 0.01, 0.03, 0.08, 0.18, 0.35, 0.58, 0.75, 0.72, 0.5, 0.18, 0.02, 0],
  [null, 0, 0.01, 0.03, 0.09, 0.24, 0.48, 0.78, 1.0, 0.8, 0.42, 0.14, 0.03, 0.004, 0],
  [null, 0.005, 0.02, 0.06, 0.16, 0.38, 0.6, 0.78, 0.8, 0.62, 0.34, 0.12, 0.02, 0.003, 0],
  [null, 0, 0.01, 0.03, 0.08, 0.2, 0.38, 0.62, 0.85, 0.88, 0.55, 0.2, 0.04, 0.004, 0]
];
const resBiasKdeTicks = [-2.5, -2.0, -1.5, -1.0, -0.5, 0.0, 0.5, 1.0];
const resBiasKdeLabels = ['\u22122.5', '\u22122.0', '\u22121.5', '\u22121.0', '\u22120.5', '0.0', '0.5', '1.0'];
const resBiasZigHi = [0.65, 0.75, 0.7, 0.8, 0.75, 0.85, 0.7, 0.75, 0.7, 0.95, 0.75, 0.7, 0.75, 0.8, 1.15, 0.95, 0.7, 0.75, 0.7, 0.75,
  0.8, 0.75, 0.7, 0.8, 0.75, 0.9, 0.7, 0.75, 0.8, 0.75, 0.9, 0.75, 0.9, 0.75, 0.7, 0.8, 0.75, 0.7, 0.92, 0.7];
const resBiasZigLo = [-1.55, -1.1, -1.0, -1.1, -1.7, -1.2, -1.1, -1.0, -1.1, -1.6, -1.1, -1.0, -1.2, -1.8, -1.1, -1.0, -1.35, -1.1, -1.0, -1.1,
  -1.2, -2.4, -1.1, -1.2, -1.45, -1.1, -1.0, -1.1, -1.2, -1.7, -1.1, -1.0, -1.1, -1.3, -1.1, -1.0, -1.1, -1.2, -1.1, -1.0];
const resBiasBands = [
  [[0.5, 0.55, 0.55, 0.55, 0.5, 0.58, 0.55, 0.55, 0.55, 0.55, 0.5], [-0.75, -0.8, -0.8, -0.78, -0.72, -0.85, -0.8, -0.8, -0.8, -0.78, -0.75]],
  [[0.4, 0.45, 0.45, 0.45, 0.4, 0.48, 0.45, 0.45, 0.45, 0.45, 0.4], [-0.62, -0.66, -0.66, -0.65, -0.6, -0.7, -0.66, -0.66, -0.66, -0.65, -0.62]],
  [[-0.12, -0.1, -0.1, -0.1, -0.12, -0.1, -0.1, -0.1, -0.1, -0.1, -0.12], [-0.5, -0.52, -0.52, -0.5, -0.48, -0.54, -0.52, -0.52, -0.52, -0.5, -0.5]],
  [[0.4, 0.42, 0.42, 0.42, 0.38, 0.44, 0.42, 0.42, 0.42, 0.42, 0.4], [-0.2, -0.22, -0.22, -0.2, -0.18, -0.24, -0.22, -0.22, -0.22, -0.2, -0.2]]
];
const resBiasTraceTicks = [-2, -1, 0, 1];
const resBiasTraceLabels = ['\u22122', '\u22121', '0', '1'];

// ---------- styles ----------
const tab10 = ['#1f77b4', '#ff7f0e', '#2ca02c', '#d62728', '#9467bd', '#8c564b', '#e377c2', '#7f7f7f', '#bcbd22', '#17becf'];
const dashStyles = [[], [4.8, 2.1], [1.3, 2.1], [8.3, 2.1, 1.3, 2.1]];
const monoBandAlpha = [0.16, 0.38];
const sigmaBandAlpha = [0.1, 0.18];
const mixBandColors = [7, 2, 8, 9];
const mixBandAlpha = [0.2, 0.3, 0.45, 0.6];

var rows = [
  { name: 'muC', lim: muCLim, kdeX: muCKdeX, kde: muCKde, kdeTicks: muCKdeTicks, kdeLabels: muCKdeLabels,
    zigHi: muCZigHi, zigLo: muCZigLo, bands: muCBands, traceTicks: muCTraceTicks, traceLabels: muCTraceLabels,
    kdeColors: null, bandColors: [0, 0], bandAlpha: monoBandAlpha },
  { name: 'muD', lim: muDLim, kdeX: muDKdeX, kde: muDKde, kdeTicks: muDKdeTicks, kdeLabels: muDKdeLabels,
    zigHi: muDZigHi, zigLo: muDZigLo, bands: muDBands, traceTicks: muDTraceTicks, traceLabels: muDTraceLabels,
    kdeColors: null, bandColors: [0, 0], bandAlpha: monoBandAlpha },
  { name: 'obsC', lim: obsCLim, kdeX: obsCKdeX, kde: obsCKde, kdeTicks: obsCKdeTicks, kdeLabels: obsCKdeLabels,
    zigHi: obsCZigHi, zigLo: obsCZigLo, bands: obsCBands, traceTicks: obsCTraceTicks, traceLabels: obsCTraceLabels,
    kdeColors: [0, 1, 2, 3, 4, 5, 6, 7, 8, 9, 2, 9, 8, 3, 9, 2], bandColors: mixBandColors, bandAlpha: mixBandAlpha },
  { name: 'obsD', lim: obsDLim, kdeX: obsDKdeX, kde: obsDKde, kdeTicks: obsDKdeTicks, kdeLabels: obsDKdeLabels,
    zigHi: obsDZigHi, zigLo: obsDZigLo, bands: obsDBands, traceTicks: obsDTraceTicks, traceLabels: obsDTraceLabels,
    kdeColors: [1, 2, 0, 3, 9, 8, 4, 5, 2, 6, 7, 9, 8, 3, 1, 9], bandColors: mixBandColors, bandAlpha: mixBandAlpha },
  { name: 'sigmaC', lim: sigmaCLim, kdeX: sigmaCKdeX, kde: sigmaCKde, kdeTicks: sigmaCKdeTicks, kdeLabels: sigmaCKdeLabels,
    zigHi: sigmaCZigHi, zigLo: sigmaCZigLo, bands: sigmaCBands, traceTicks: sigmaCTraceTicks, traceLabels: sigmaCTraceLabels,
    kdeColors: null, bandColors: [0, 0], bandAlpha: sigmaBandAlpha },
  { name: 'sigmaD', lim: sigmaDLim, kdeX: sigmaDKdeX, kde: sigmaDKde, kdeTicks: sigmaDKdeTicks, kdeLabels: sigmaDKdeLabels,
    zigHi: sigmaDZigHi, zigLo: sigmaDZigLo, bands: sigmaDBands, traceTicks: sigmaDTraceTicks, traceLabels: sigmaDTraceLabels,
    kdeColors: null, bandColors: [0, 0], bandAlpha: sigmaBandAlpha },
  { name: 'c', lim: cLim, kdeX: cKdeX, kde: cKde, kdeTicks: cKdeTicks, kdeLabels: cKdeLabels,
    zigHi: cZigHi, zigLo: cZigLo, bands: cBands, traceTicks: cTraceTicks, traceLabels: cTraceLabels,
    kdeColors: [0, 1, 2, 3, 4, 5, 6, 7, 8, 9, 9, 2, 0, 3, 8, 9], bandColors: mixBandColors, bandAlpha: mixBandAlpha },
  { name: 'd', lim: dLim, kdeX: dKdeX, kde: dKde, kdeTicks: dKdeTicks, kdeLabels: dKdeLabels,
    zigHi: dZigHi, zigLo: dZigLo, bands: dBands, traceTicks: dTraceTicks, traceLabels: dTraceLabels,
    kdeColors: [0, 1, 2, 3, 4, 5, 6, 7, 8, 9, 2, 8, 3, 9, 1], bandColors: mixBandColors, bandAlpha: mixBandAlpha },
  { name: 'eta', lim: etaLim, kdeX: etaKdeX, kde: etaKde, kdeTicks: etaKdeTicks, kdeLabels: etaKdeLabels,
    zigHi: etaZigHi, zigLo: etaZigLo, bands: etaBands, traceTicks: etaTraceTicks, traceLabels: etaTraceLabels,
    kdeColors: [8, 2, 4, 6, 7, 8, 2, 8, 3, 9, 1, 5, 3, 9, 5, 9], bandColors: [5, 3, 7, 7, 8, 9], bandAlpha: [0.45, 0.5, 0.5, 0.4, 0.6, 0.65] },
  { name: 'p', lim: pLim, kdeX: pKdeX, kde: pKde, kdeTicks: pKdeTicks, kdeLabels: pKdeLabels,
    zigHi: pZigHi, zigLo: pZigLo, bands: pBands, traceTicks: pTraceTicks, traceLabels: pTraceLabels,
    kdeColors: [8, 2, 4, 6, 7, 8, 6, 2, 3, 9, 9, 1, 5, 3, 5, 1], bandColors: [5, 3, 7, 5, 2, 8, 9], bandAlpha: [0.45, 0.5, 0.5, 0.4, 0.4, 0.6, 0.65] },
  { name: 'resBias', lim: resBiasLim, kdeX: resBiasKdeX, kde: resBiasKde, kdeTicks: resBiasKdeTicks, kdeLabels: resBiasKdeLabels,
    zigHi: resBiasZigHi, zigLo: resBiasZigLo, bands: resBiasBands, traceTicks: resBiasTraceTicks, traceLabels: resBiasTraceLabels,
    kdeColors: [0, 1, 2, 3, 4, 5, 6, 7, 8, 9, 9, 2, 1, 9, 3], bandColors: mixBandColors, bandAlpha: mixBandAlpha }
];

// ---------- helpers ----------
Chart.defaults.font.family = '"DejaVu Sans", sans-serif';
Chart.defaults.color = '#000';

function rgba(hex, a) {
  var n = parseInt(hex.slice(1), 16);
  return 'rgba(' + (n >> 16) + ',' + ((n >> 8) & 255) + ',' + (n & 255) + ',' + a + ')';
}

function toPoints(xs, ys) {
  return xs.map(function (x, i) { return { x: x, y: ys[i] }; })
    .filter(function (p) { return p.y !== null; });
}

// hatch each 25-draw bin: the bin's max and min plus strokes across the outer band
function hatchPoints(hi, lo, band) {
  var pts = [];
  hi.forEach(function (v, i) {
    var j = Math.min(bandIters.length - 1, Math.round((i * 25 + 12) / 100));
    var bh = band[0][j], bl = band[1][j];
    var seq = i % 2 === 0 ? [v, bl, bh, lo[i], bh, bl, bh, bl] : [bl, bh, lo[i], bh, bl, v, bl, bh];
    seq.forEach(function (y, s) { pts.push({ x: i * 25 + 1.5 + s * 3, y: y }); });
  });
  return pts;
}

// frame around the axes plus the panel title
var framePlugin = {
  id: 'frame',
  afterDraw: function (chart, args, opts) {
    var a = chart.chartArea, ctx = chart.ctx;
    ctx.save();
    ctx.strokeStyle = '#000';
    ctx.lineWidth = 1;
    ctx.strokeRect(a.left + 0.5, a.top + 0.5, a.right - a.left - 1, a.bottom - a.top - 1);
    ctx.fillStyle = '#000';
    ctx.font = '15px "DejaVu Sans", sans-serif';
    ctx.textAlign = 'center';
    ctx.textBaseline = 'alphabetic';
    ctx.fillText(opts.text, (a.left + a.right) / 2, a.top - 8);
    ctx.restore();
  }
};

function tickAxis(min, max, vals, labels, fit) {
  return {
    type: 'linear', min: min, max: max,
    afterBuildTicks: function (ax) { ax.ticks = vals.map(function (v) { return { value: v }; }); },
    ticks: {
      autoSkip: false, maxRotation: 0, padding: 4, color: '#000', font: { size: 14 },
      callback: function (v, i) { return labels[i]; }
    },
    grid: { drawOnChartArea: false, drawTicks: true, tickLength: 5, color: '#000', lineWidth: 1 },
    border: { display: false },
    afterFit: fit
  };
}

function addCanvas(left, top, w, h) {
  var cv = document.createElement('canvas');
  cv.width = w; cv.height = h;
  cv.style.left = left + 'px'; cv.style.top = top + 'px';
  cv.style.width = w + 'px'; cv.style.height = h + 'px';
  document.getElementById('fig').appendChild(cv);
  return cv;
}

function baseOptions(pad, title) {
  return {
    responsive: false, animation: false, events: [],
    layout: { padding: pad },
    plugins: { legend: { display: false }, tooltip: { enabled: false }, frame: { text: title } }
  };
}

// ---------- draw ----------
rows.forEach(function (r, k) {
  var top = 198 * k;
  var h = k === rows.length - 1 ? 210 : 198;
  var bottomPad = h - 170 - 28;
  var multi = r.kdeColors !== null;

  // left: density per chain / per component
  var kdeSets = r.kde.map(function (ys, i) {
    var col = multi ? tab10[r.kdeColors[i]] : tab10[0];
    return {
      data: toPoints(r.kdeX, ys), borderColor: col, borderWidth: multi ? 1.1 : 1.3,
      borderDash: dashStyles[i % 4], pointRadius: 0, fill: false, cubicInterpolationMode: 'monotone'
    };
  });
  var kdeOpts = baseOptions({ left: 26, right: 24, top: 31, bottom: bottomPad }, r.name);
  kdeOpts.scales = {
    x: tickAxis(r.lim[0], r.lim[1], r.kdeTicks, r.kdeLabels, function (ax) { ax.height = 28; }),
    y: { display: false, min: -0.05, max: 1.05 }
  };
  new Chart(addCanvas(0, top, 600, h), { type: 'line', data: { datasets: kdeSets }, options: kdeOpts, plugins: [framePlugin] });

  // right: filled dense bands, then the hatch of per-bin extremes
  var traceSets = [];
  r.bands.forEach(function (b, i) {
    traceSets.push({ data: toPoints(bandIters, b[0]), borderWidth: 0, pointRadius: 0, tension: 0,
      fill: '+1', backgroundColor: rgba(tab10[r.bandColors[i]], r.bandAlpha[i]) });
    traceSets.push({ data: toPoints(bandIters, b[1]), borderWidth: 0, pointRadius: 0, tension: 0, fill: false });
  });
  traceSets.push({
    data: hatchPoints(r.zigHi, r.zigLo, r.bands[0]), borderWidth: 0.8, pointRadius: 0, tension: 0, fill: false,
    borderColor: rgba(tab10[0], 0.3),
    segment: multi ? { borderColor: function (c) { return rgba(tab10[(c.p0DataIndex * 3) % 10], 0.35); } } : undefined
  });
  traceSets.forEach(function (d, i) { d.order = -i; });

  var trOpts = baseOptions({ left: 0, right: 8, top: 31, bottom: bottomPad }, r.name);
  trOpts.scales = {
    x: tickAxis(0, 999, iterTicks, iterTickLabels, function (ax) { ax.height = 28; }),
    y: tickAxis(r.lim[0], r.lim[1], r.traceTicks, r.traceLabels, function (ax) { ax.width = 40; })
  };
  new Chart(addCanvas(589, top, 600, h), { type: 'line', data: { datasets: traceSets }, options: trOpts, plugins: [framePlugin] });
});
</script>
</body>
</html>
